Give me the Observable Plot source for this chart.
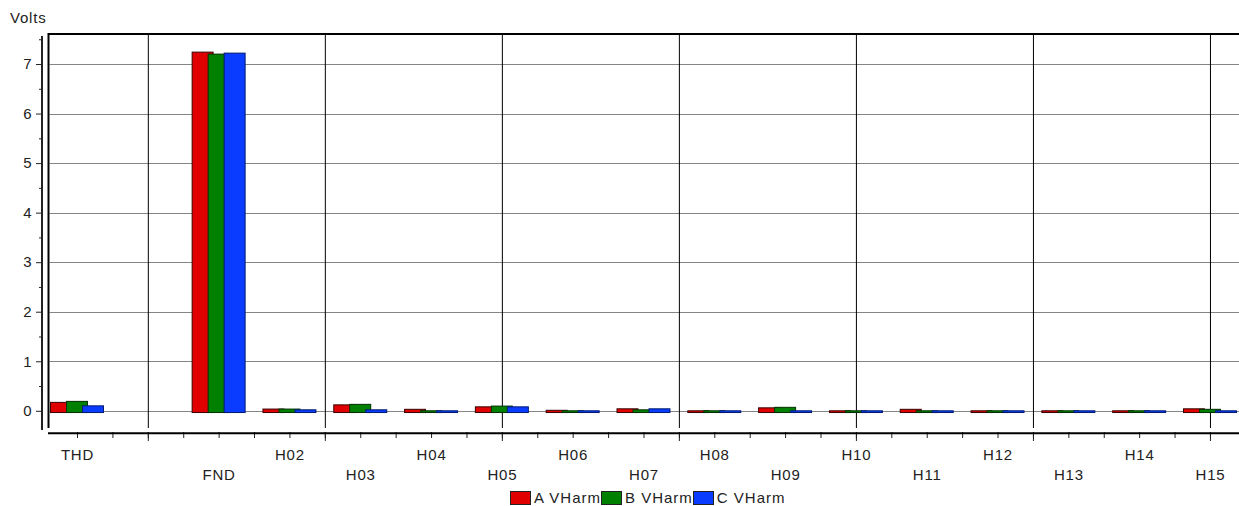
<!DOCTYPE html>
<html>
<head>
<meta charset="utf-8">
<script src="https://cdn.jsdelivr.net/npm/d3@7"></script>
<script src="https://cdn.jsdelivr.net/npm/@observablehq/plot@0.6"></script>
<style>
  html, body { margin: 0; padding: 0; background: #fff; overflow: hidden; }
  #wrap { position: relative; width: 1239px; height: 506px; font-family: "Liberation Sans", Arial, sans-serif; }
  #legend { position: absolute; left: 510px; top: 491px; display: flex; align-items: center; font-size: 15px; letter-spacing: 1px; color: #222; line-height: 14px; }
  #legend .sw { width: 19px; height: 12px; border: 1px solid #222; margin-right: 3px; }
  #legend .lab { margin-right: 0px; }
</style>
</head>
<body>
<div id="wrap"><div id="legend"></div></div>
<script>
// ---- data ----
const categories = ["THD","FND","H02","H03","H04","H05","H06","H07","H08","H09","H10","H11","H12","H13","H14","H15"];
const seriesNames = ["A VHarm","B VHarm","C VHarm"];
const valuesA = [0.17, 7.24, 0.035, 0.12, 0.03, 0.08, 0.01, 0.04, 0.0, 0.06, 0.0, 0.03, 0.0, 0.0, 0.0, 0.04];
const valuesB = [0.19, 7.20, 0.035, 0.13, 0.0, 0.095, 0.0, 0.02, 0.0, 0.07, 0.0, 0.0, 0.0, 0.0, 0.0, 0.03];
const valuesC = [0.10, 7.22, 0.02, 0.02, 0.0, 0.08, 0.0, 0.04, 0.0, 0.0, 0.0, 0.0, 0.0, 0.0, 0.0, 0.0];
const yTicks = [0,1,2,3,4,5,6,7];
const yMinorTicks = [0.5,1.5,2.5,3.5,4.5,5.5,6.5,7.5];
const fills = ["#e00000","#008000","#0a3cff"];
const strokes = ["#3a0000","#003000","#001a70"];

// ---- layout helpers ----
// the chart leaves one empty slot between THD and FND
const slotOf = i => (i === 0 ? 0 : i + 1);
const nSlots = categories.length + 1;
const halfW = 0.148;       // half bar width, in slots
const offs = [-0.226, 0, 0.226];
const base = -0.035;       // bars start slightly below the zero line

const allValues = [valuesA, valuesB, valuesC];
const rows = [];
allValues.forEach((vals, s) => {
  vals.forEach((v, i) => {
    const c = slotOf(i) + offs[s];
    rows.push({series: seriesNames[s], s, cat: categories[i], x1: c - halfW, x2: c + halfW, y1: base, y2: v});
  });
});
const labelData = categories.map((c, i) => ({cat: c, x: slotOf(i), row: i % 2}));
const halfTicks = d3.range(0, nSlots, 0.5);
const gridSlots = d3.range(1, nSlots, 2.5);

const W = 1239, H = 486;
const frameMark = (index, scales, values, dims) => {
  const g = d3.create("svg:g");
  // horizontal grid
  for (const t of yTicks) {
    const yy = Math.round(scales.y(t)) + 0.5;
    g.append("line").attr("x1", 49.5).attr("x2", W).attr("y1", yy).attr("y2", yy)
      .attr("stroke", "#858585").attr("stroke-width", 1);
  }
  return g.node();
};
const borderMark = (index, scales, values, dims) => {
  const g = d3.create("svg:g");
  const line = (x1, y1, x2, y2, w, c) => g.append("line").attr("x1", x1).attr("y1", y1).attr("x2", x2).attr("y2", y2).attr("stroke", c).attr("stroke-width", w);
  line(42, 36, 42, 430, 2, "#222");          // outer left axis line
  line(48.5, 33, 48.5, 428, 2, "#000");      // inner left line
  line(48, 34, W, 34, 2, "#000");            // top border
  line(48, 433.3, W, 433.3, 2, "#000");      // bottom axis line
  return g.node();
};

const barMarks = [0,1,2].map(s => Plot.rect(rows.filter(r => r.s === s), {
  x1: "x1", x2: "x2", y1: "y1", y2: "y2",
  fill: fills[s], stroke: strokes[s], strokeWidth: 1
}));

const chart = Plot.plot({
  width: W, height: H,
  marginLeft: 42, marginRight: 0, marginTop: 34, marginBottom: 54,
  style: {fontFamily: "'Liberation Sans', Arial, sans-serif", fontSize: "15px", color: "#222", background: "transparent", letterSpacing: "0.8px"},
  x: {type: "linear", domain: [-0.5, nSlots - 0.5], range: [41.6, 41.6 + 70.81 * nSlots], axis: null},
  y: {domain: [-0.428, 7.606], range: [432, 34], axis: null},
  marks: [
    frameMark,
    Plot.ruleX(gridSlots, {stroke: "#000", strokeWidth: 1, insetBottom: 4}),
    ...barMarks,
    Plot.axisY({ticks: yTicks, anchor: "left", tickSize: 6, tickPadding: 4, tickFormat: d => String(d), stroke: "#222", fill: "#222", fontSize: 15}),
    Plot.axisY({ticks: yMinorTicks, anchor: "left", tickSize: 3, tickFormat: () => "", stroke: "#222"}),
    Plot.axisX({ticks: halfTicks, anchor: "bottom", tickSize: 6, tickFormat: () => "", stroke: "#222"}),
    Plot.axisX({ticks: gridSlots, anchor: "bottom", tickSize: 9, tickFormat: () => "", stroke: "#222"}),
    Plot.text(labelData.filter(d => d.row === 0), {x: "x", text: "cat", frameAnchor: "bottom", dy: 27, lineAnchor: "bottom", fill: "#222", fontSize: 15}),
    Plot.text(labelData.filter(d => d.row === 1), {x: "x", text: "cat", frameAnchor: "bottom", dy: 47, lineAnchor: "bottom", fill: "#222", fontSize: 15}),
    Plot.text(["Volts"], {frameAnchor: "top-left", dx: -32.5, dy: -12, textAnchor: "start", lineAnchor: "bottom", fill: "#222", fontSize: 15}),
    borderMark
  ]
});
const wrap = document.getElementById("wrap");
wrap.insertBefore(chart, wrap.firstChild);

const legend = document.getElementById("legend");
seriesNames.forEach((n, i) => {
  const sw = document.createElement("div");
  sw.className = "sw"; sw.style.background = fills[i];
  const lab = document.createElement("span");
  lab.className = "lab"; lab.textContent = n;
  legend.appendChild(sw); legend.appendChild(lab);
});
</script>
</body>
</html>
